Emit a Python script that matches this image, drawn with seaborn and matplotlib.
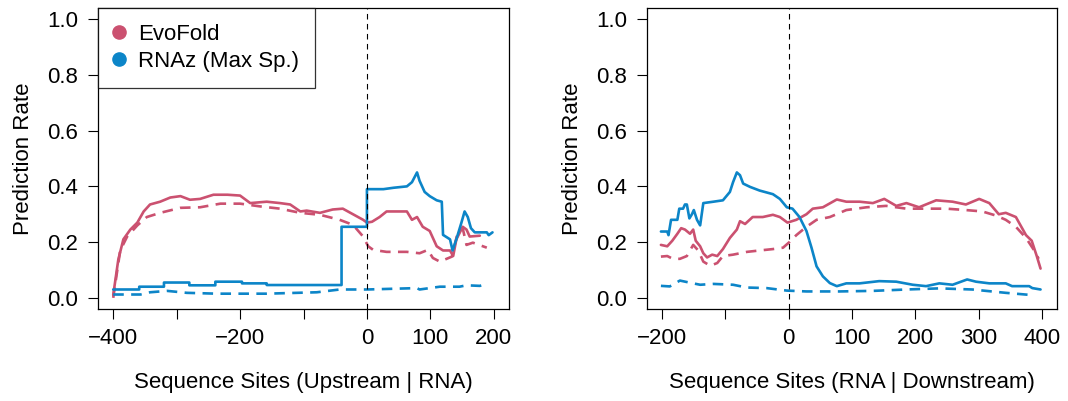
import numpy as np
import pandas as pd
import matplotlib
matplotlib.use("Agg")
import matplotlib.pyplot as plt
from matplotlib.lines import Line2D
import seaborn as sns

sns.set_theme(style="white")
plt.rcParams['font.family'] = ['Liberation Sans', 'DejaVu Sans']
plt.rcParams['text.color'] = 'black'
plt.rcParams['axes.labelcolor'] = 'black'
plt.rcParams['xtick.color'] = 'black'
plt.rcParams['ytick.color'] = 'black'

# ---------------- data: left panel (Upstream | RNA) ----------------
L_evo_x = [-400, -392, -384, -373, -362, -352, -342, -326, -310, -294, -279, -263, -242, -220,
           -200, -184, -158, -137, -121, -105, -95, -74, -54, -38, -22, -6, 0, 8, 20, 31, 41, 63,
           71, 79, 88, 99, 110, 120, 131, 136, 141, 151, 157, 162, 178]
L_evo_y = [0.01, 0.137, 0.21, 0.245, 0.27, 0.31, 0.335, 0.345, 0.36, 0.365, 0.352, 0.355, 0.37, 0.37,
           0.367, 0.34, 0.345, 0.34, 0.335, 0.31, 0.313, 0.305, 0.317, 0.32, 0.30, 0.28, 0.27, 0.273,
           0.29, 0.31, 0.31, 0.31, 0.28, 0.29, 0.255, 0.24, 0.185, 0.17, 0.17, 0.15, 0.21, 0.255,
           0.245, 0.22, 0.223]

L_evo_d_x = [-400, -389, -378, -362, -347, -326, -294, -263, -231, -200, -168, -137, -105, -74, -43,
             -22, -6, 2, 10, 31, 63, 83, 96, 104, 115, 134, 143, 151, 157, 167, 189]
L_evo_d_y = [0.0, 0.17, 0.22, 0.26, 0.29, 0.305, 0.323, 0.325, 0.338, 0.338, 0.328, 0.32, 0.305, 0.298,
             0.28, 0.262, 0.22, 0.185, 0.172, 0.165, 0.165, 0.16, 0.172, 0.143, 0.13, 0.148, 0.233,
             0.25, 0.19, 0.198, 0.18]

L_rnaz_x = [-400, -359, -359, -320, -320, -280, -280, -239, -239, -197, -197, -158, -158, -40, -40,
            0, 0, 26, 42, 63, 71, 79, 83, 91, 99, 110, 118, 120, 131, 135, 141, 149, 154, 159, 164,
            170, 189, 192, 198]
L_rnaz_y = [0.03, 0.03, 0.04, 0.04, 0.055, 0.055, 0.045, 0.045, 0.058, 0.058, 0.052, 0.052, 0.046,
            0.046, 0.255, 0.255, 0.39, 0.39, 0.395, 0.40, 0.415, 0.45, 0.42, 0.38, 0.365, 0.35, 0.345,
            0.226, 0.21, 0.17, 0.21, 0.27, 0.31, 0.29, 0.25, 0.235, 0.235, 0.225, 0.235]

L_rnaz_d_x = [-400, -357, -342, -315, -284, -237, -158, -79, -43, 0, 79, 83, 115, 146, 157, 178, 189]
L_rnaz_d_y = [0.012, 0.012, 0.02, 0.025, 0.018, 0.015, 0.015, 0.02, 0.03, 0.03, 0.035, 0.03, 0.04,
              0.04, 0.045, 0.043, 0.05]

# ---------------- data: right panel (RNA | Downstream) ----------------
R_evo_x = [-202, -192, -184, -176, -170, -164, -156, -151, -147, -140, -135, -129, -121, -113, -104,
           -93, -82, -77, -69, -57, -41, -25, -14, -2, 12, 28, 38, 54, 76, 91, 112, 133, 151, 170,
           186, 206, 233, 259, 280, 301, 317, 332, 343, 359, 375, 384, 392, 398]
R_evo_y = [0.19, 0.185, 0.205, 0.23, 0.25, 0.245, 0.23, 0.245, 0.205, 0.185, 0.16, 0.145, 0.155, 0.15,
           0.175, 0.215, 0.245, 0.275, 0.265, 0.29, 0.29, 0.298, 0.29, 0.27, 0.28, 0.30, 0.32, 0.325,
           0.353, 0.345, 0.345, 0.34, 0.355, 0.33, 0.34, 0.325, 0.35, 0.345, 0.335, 0.355, 0.34, 0.30,
           0.305, 0.29, 0.225, 0.205, 0.15, 0.105]

R_evo_d_x = [-202, -192, -183, -172, -161, -151, -143, -135, -124, -113, -104, -88, -66, -46, -25, -9,
             1, 12, 28, 44, 65, 91, 123, 154, 186, 217, 249, 280, 306, 328, 343, 359, 375, 388, 395]
R_evo_d_y = [0.148, 0.15, 0.14, 0.14, 0.15, 0.19, 0.17, 0.13, 0.115, 0.125, 0.15, 0.155, 0.165, 0.17,
             0.175, 0.18, 0.2, 0.225, 0.255, 0.28, 0.29, 0.315, 0.325, 0.33, 0.32, 0.32, 0.32, 0.315,
             0.31, 0.295, 0.28, 0.255, 0.215, 0.17, 0.14]

R_rnaz_x = [-202, -192, -190, -186, -176, -173, -167, -164, -161, -157, -153, -150, -145, -140, -135,
            -119, -104, -93, -88, -82, -77, -72, -61, -46, -25, -14, -3, 6, 17, 28, 36, 44, 54, 65,
            76, 91, 112, 143, 170, 196, 217, 238, 259, 282, 296, 317, 343, 353, 380, 385, 398]
R_rnaz_y = [0.238, 0.238, 0.225, 0.28, 0.28, 0.32, 0.32, 0.335, 0.335, 0.285, 0.30, 0.315, 0.28, 0.26,
            0.34, 0.345, 0.35, 0.38, 0.415, 0.45, 0.44, 0.41, 0.398, 0.385, 0.372, 0.355, 0.325, 0.32,
            0.29, 0.24, 0.18, 0.113, 0.077, 0.053, 0.042, 0.052, 0.052, 0.06, 0.058, 0.047, 0.042,
            0.052, 0.047, 0.066, 0.058, 0.052, 0.052, 0.042, 0.042, 0.035, 0.03]

R_rnaz_d_x = [-202, -188, -172, -151, -140, -119, -88, -66, -35, -3, 28, 80, 133, 186, 238, 290, 343, 384]
R_rnaz_d_y = [0.043, 0.041, 0.062, 0.052, 0.047, 0.05, 0.047, 0.037, 0.035, 0.026, 0.023, 0.023,
              0.025, 0.03, 0.034, 0.03, 0.018, 0.01]

methods = ["EvoFold", "RNAz (Max Sp.)"]
colors = {"EvoFold": "#CB5170", "RNAz (Max Sp.)": "#0C85C8"}

FS = 16


def build(parts):
    frames = []
    for (xs, ys, method, kind) in parts:
        frames.append(pd.DataFrame({"x": xs, "y": ys, "method": method, "kind": kind}))
    return pd.concat(frames, ignore_index=True)


left_df = build([(L_evo_x, L_evo_y, "EvoFold", "solid"),
                 (L_evo_d_x, L_evo_d_y, "EvoFold", "dashed"),
                 (L_rnaz_x, L_rnaz_y, "RNAz (Max Sp.)", "solid"),
                 (L_rnaz_d_x, L_rnaz_d_y, "RNAz (Max Sp.)", "dashed")])
right_df = build([(R_evo_x, R_evo_y, "EvoFold", "solid"),
                  (R_evo_d_x, R_evo_d_y, "EvoFold", "dashed"),
                  (R_rnaz_x, R_rnaz_y, "RNAz (Max Sp.)", "solid"),
                  (R_rnaz_d_x, R_rnaz_d_y, "RNAz (Max Sp.)", "dashed")])

fig = plt.figure(figsize=(10.68, 4.01), dpi=100)
ax1 = fig.add_axes([98 / 1068, 1 - 309 / 401, 411 / 1068, 301 / 401])
ax2 = fig.add_axes([647 / 1068, 1 - 309 / 401, 410 / 1068, 301 / 401])


def draw(ax, df, xlim, ticks, labels, xlabel):
    for (method, kind), sub in df.groupby(["method", "kind"], sort=False):
        sns.lineplot(data=sub, x="x", y="y", ax=ax, color=colors[method], lw=1.9,
                     estimator=None, sort=False, legend=False,
                     linestyle="-" if kind == "solid" else (0, (4, 2.8)))
    ax.axvline(0, color="black", lw=0.8, linestyle=(0, (5, 4)))
    ax.set_xlim(*xlim)
    ax.set_ylim(-0.04, 1.04)
    ax.set_xticks(ticks)
    ax.set_xticklabels(labels)
    ax.set_yticks([0.0, 0.2, 0.4, 0.6, 0.8, 1.0])
    ax.set_yticklabels(["0.0", "0.2", "0.4", "0.6", "0.8", "1.0"])
    ax.tick_params(axis="both", direction="out", length=7.5, width=0.8, color="black",
                   labelsize=FS, labelcolor="black", bottom=True, left=True)
    ax.tick_params(axis="x", pad=6)
    ax.tick_params(axis="y", pad=7)
    for s in ax.spines.values():
        s.set_color("black")
        s.set_linewidth(0.9)
    ax.set_xlabel(xlabel, fontsize=FS, labelpad=17, color="black")
    ax.set_ylabel("Prediction Rate", fontsize=FS, labelpad=9, color="black")
    ax.grid(False)


draw(ax1, left_df, (-424, 224), [-400, -300, -200, -100, 0, 100, 200],
     ["\u2212400", "", "\u2212200", "", "0", "100", "200"], "Sequence Sites (Upstream | RNA)")
draw(ax2, right_df, (-224, 424), [-200, -100, 0, 100, 200, 300, 400],
     ["\u2212200", "", "0", "100", "200", "300", "400"], "Sequence Sites (RNA | Downstream)")

handles = [Line2D([0], [0], marker="o", linestyle="none", markersize=9.5,
                  markerfacecolor=colors[m], markeredgecolor=colors[m]) for m in methods]
leg = ax1.legend(handles, methods, loc="upper left", bbox_to_anchor=(0, 1), borderaxespad=0,
                 frameon=True, fancybox=False, fontsize=FS, handletextpad=0.64,
                 borderpad=0.72, labelspacing=0.25, handlelength=0.45, labelcolor="black")
leg.get_frame().set_edgecolor("black")
leg.get_frame().set_linewidth(0.9)

fig.savefig("out.png", dpi=100)
